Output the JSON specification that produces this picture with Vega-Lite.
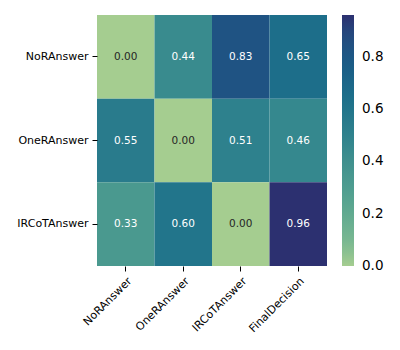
{
  "$schema": "https://vega.github.io/schema/vega-lite/v6.json",
  "autosize": {"type": "none"},
  "padding": {"left": 97, "top": 15, "right": 73, "bottom": 84},
  "width": 230,
  "height": 251,
  "background": "white",
  "config": {
    "view": {"stroke": null},
    "font": "DejaVu Sans",
    "axis": {"labelFont": "DejaVu Sans", "labelColor": "#000000", "tickColor": "#000000", "domain": false, "grid": false, "title": null, "tickSize": 5, "labelPadding": 4}
  },
  "data": {"values": [
    {"row": "NoRAnswer", "col": "NoRAnswer", "value": 0.00},
    {"row": "NoRAnswer", "col": "OneRAnswer", "value": 0.44},
    {"row": "NoRAnswer", "col": "IRCoTAnswer", "value": 0.83},
    {"row": "NoRAnswer", "col": "FinalDecision", "value": 0.65},
    {"row": "OneRAnswer", "col": "NoRAnswer", "value": 0.55},
    {"row": "OneRAnswer", "col": "OneRAnswer", "value": 0.00},
    {"row": "OneRAnswer", "col": "IRCoTAnswer", "value": 0.51},
    {"row": "OneRAnswer", "col": "FinalDecision", "value": 0.46},
    {"row": "IRCoTAnswer", "col": "NoRAnswer", "value": 0.33},
    {"row": "IRCoTAnswer", "col": "OneRAnswer", "value": 0.60},
    {"row": "IRCoTAnswer", "col": "IRCoTAnswer", "value": 0.00},
    {"row": "IRCoTAnswer", "col": "FinalDecision", "value": 0.96}
  ]},
  "encoding": {
    "x": {"field": "col", "type": "nominal", "sort": ["NoRAnswer", "OneRAnswer", "IRCoTAnswer", "FinalDecision"], "scale": {"paddingInner": 0, "paddingOuter": 0},
      "axis": {"labelAngle": -45, "labelAlign": "right", "labelBaseline": "top", "labelFontSize": 11}},
    "y": {"field": "row", "type": "nominal", "sort": ["NoRAnswer", "OneRAnswer", "IRCoTAnswer"], "scale": {"paddingInner": 0, "paddingOuter": 0},
      "axis": {"labelFontSize": 11}}
  },
  "layer": [
    {
      "mark": {"type": "rect"},
      "encoding": {
        "color": {"field": "value", "type": "quantitative",
          "scale": {"domain": [0, 0.08, 0.24, 0.4, 0.56, 0.72, 0.88, 0.96],
                    "range": ["#a5cd90", "#7dba91", "#59a590", "#40908e", "#287a8c", "#1c6488", "#254b7f", "#2c3070"]},
          "legend": {"title": null, "orient": "right", "offset": 15, "gradientLength": 251, "gradientThickness": 12, "gradientStrokeWidth": 0,
            "values": [0, 0.2, 0.4, 0.6, 0.8], "format": ".1f", "labelFontSize": 13.5, "labelColor": "#000000", "labelOffset": 8, "labelFont": "DejaVu Sans", "labelBaseline": "middle",
            "encode": {"labels": {"update": {"baseline": {"value": "middle"}}}}}}
      }
    },
    {
      "mark": {"type": "text", "fontSize": 10.5, "font": "DejaVu Sans"},
      "encoding": {
        "text": {"field": "value", "type": "quantitative", "format": ".2f"},
        "color": {"condition": {"test": "datum.value > 0.2", "value": "#ffffff"}, "value": "#262626"}
      }
    }
  ]
}
